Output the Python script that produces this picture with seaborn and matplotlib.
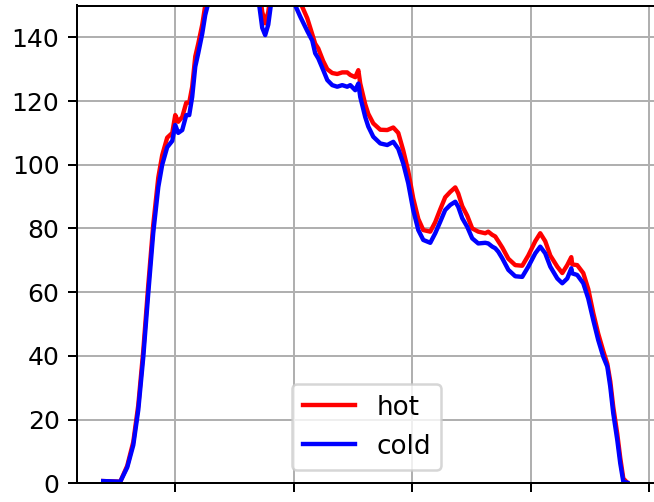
import pandas as pd
import matplotlib
matplotlib.use('Agg')
import matplotlib.pyplot as plt
import seaborn as sns

# Posições no eixo x (unidades arbitrárias, os rótulos do eixo x estão cortados)
x = [39.2, 53.6, 59.5, 64.6, 68.8, 73.0, 77.2, 81.4, 85.7, 89.0,
     93.2, 97.5, 100.0, 102.5, 105.9, 109.3, 111.8, 114.3, 116.9, 119.4,
     122.8, 125.3, 128.7, 133.8, 146.4, 159.1, 167.5, 170.9, 173.4, 175.9,
     178.5, 181.0, 188.6, 197.0, 201.3, 205.5, 211.4, 215.6, 218.1, 220.7,
     224.9, 228.3, 232.5, 236.7, 240.9, 245.1, 247.7, 251.9, 254.5, 256.1,
     260.3, 262.9, 267.1, 273.0, 278.9, 284.0, 288.2, 292.4, 296.6, 300.8,
     305.1, 309.3, 315.2, 319.4, 323.6, 327.8, 332.1, 336.3, 338.8, 342.2,
     346.4, 350.6, 355.7, 361.6, 364.1, 367.5, 370.0, 372.6, 376.0, 381.1,
     386.9, 392.8, 397.9, 403.8, 408.0, 412.2, 416.5, 422.4, 426.6, 430.8,
     434.2, 435.0, 439.2, 444.3, 448.5, 452.7, 456.9, 461.2, 464.6, 467.1,
     469.6, 473.0, 475.5, 478.1, 481.4]

hot = [0.7, 0.5, 5.5, 13.0, 24.5, 41.5, 62.0, 81.0, 96.0, 103.0,
       108.5, 110.0, 115.6, 113.5, 115.0, 119.5, 119.5, 124.5, 134.0, 138.0,
       144.0, 150.0, 155.0, 158.0, 162.0, 160.0, 156.0, 155.0, 148.0, 144.4,
       148.0, 155.0, 158.0, 156.0, 154.0, 151.0, 146.0, 141.0, 138.0, 136.5,
       132.5, 130.0, 128.8, 128.5, 129.0, 129.0, 128.2, 127.5, 129.7, 125.5,
       119.0, 116.0, 113.0, 111.0, 110.9, 111.7, 110.0, 104.5, 98.0, 89.5,
       83.0, 79.5, 79.0, 82.0, 86.0, 89.8, 91.5, 92.9, 91.0, 87.0,
       84.0, 80.0, 79.0, 78.5, 79.0, 78.0, 77.5, 76.0, 74.0, 70.5,
       68.5, 68.3, 71.5, 76.0, 78.5, 76.0, 71.5, 68.0, 66.0, 68.5,
       71.0, 68.7, 68.5, 66.0, 61.0, 53.5, 47.0, 41.5, 37.5, 32.0,
       24.0, 15.5, 8.0, 1.5, 0.2]

cold = [0.7, 0.5, 5.0, 12.0, 23.0, 39.5, 59.5, 78.5, 93.0, 100.0,
        105.5, 107.5, 112.5, 110.0, 110.9, 115.6, 115.6, 121.3, 130.8, 135.0,
        141.2, 147.0, 152.0, 157.0, 162.0, 160.0, 155.0, 150.0, 143.0, 140.7,
        144.0, 151.0, 158.0, 155.0, 150.0, 146.5, 142.0, 139.0, 135.0, 133.4,
        129.7, 126.6, 125.0, 124.5, 125.0, 124.5, 125.0, 123.4, 125.5, 121.3,
        115.0, 112.0, 108.8, 106.7, 106.2, 107.2, 105.0, 100.4, 94.2, 85.8,
        79.5, 76.4, 75.5, 78.5, 82.1, 85.8, 87.4, 88.4, 86.8, 83.2,
        80.5, 76.9, 75.3, 75.5, 75.3, 74.3, 73.8, 72.7, 70.6, 67.0,
        65.0, 64.8, 68.0, 72.2, 74.3, 72.2, 68.0, 64.3, 62.8, 64.3,
        67.5, 65.9, 65.4, 62.8, 58.0, 51.3, 45.0, 39.7, 36.6, 30.3,
        22.0, 13.6, 6.3, 0.5, 0.2]

# Dataframe no formato longo
df = pd.DataFrame({
    'x': x + x,
    'valor': hot + cold,
    'serie': ['hot'] * len(x) + ['cold'] * len(x)
})

plt.rcParams['font.size'] = 10

fig = plt.figure(figsize=(654 / 180, 502 / 180), dpi=180)
ax = fig.add_axes([77 / 654, 18.7 / 502, 579.5 / 654, 477.8 / 502])

sns.lineplot(data=df, x='x', y='valor', hue='serie',
             palette={'hot': 'red', 'cold': 'blue'}, linewidth=1.75, ax=ax)

ax.set_ylim(0, 150)
ax.set_xlim(17.1, 506.1)
ax.set_xticks([100, 200, 300, 400, 500])
ax.tick_params(labelbottom=False)
ax.set_xlabel('')
ax.set_ylabel('')
ax.grid(True)
ax.legend(loc='lower center', title=None, fontsize=10.5)

fig.savefig('out.png', dpi=180)
